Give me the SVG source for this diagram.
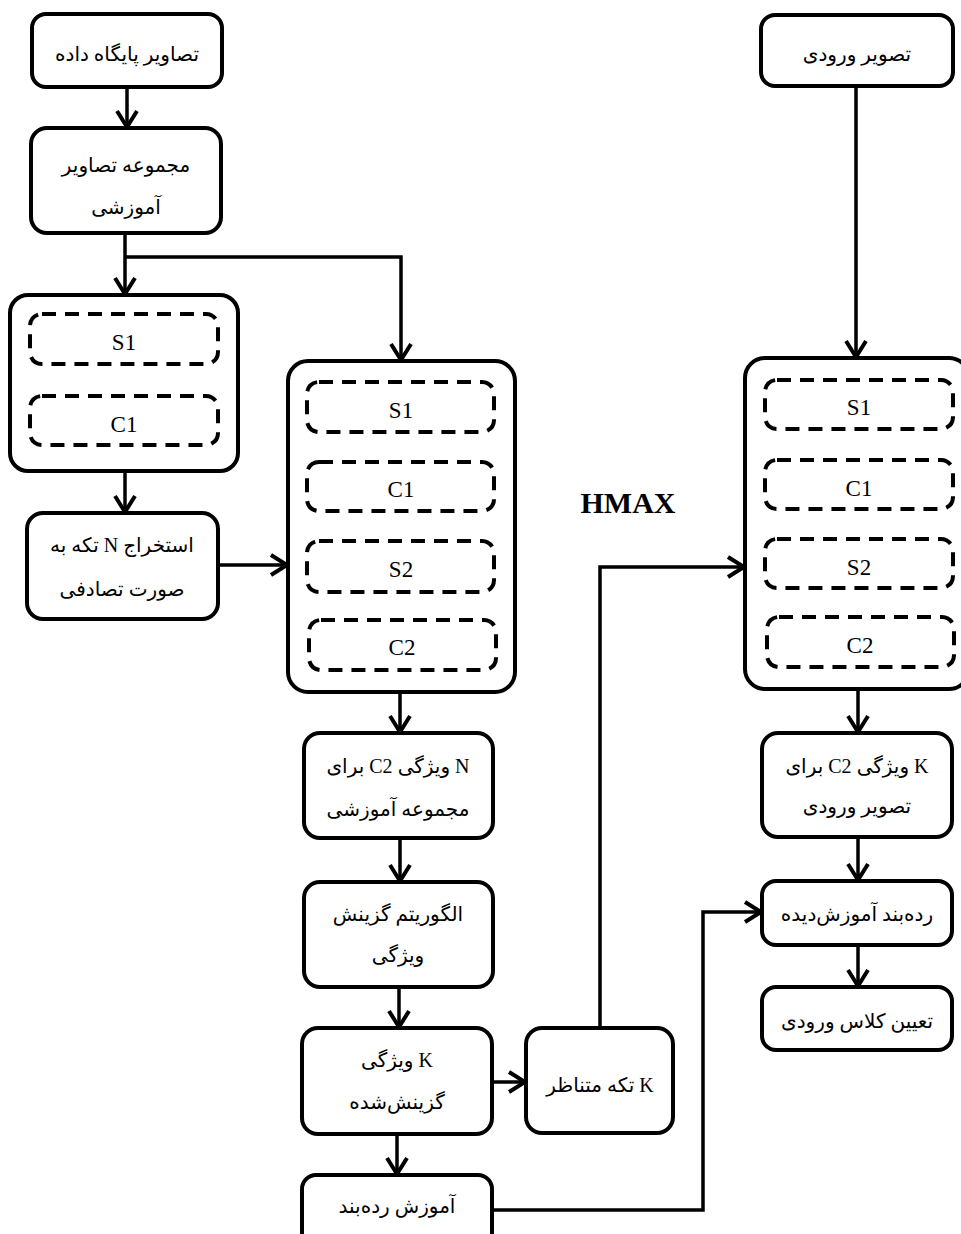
<svg xmlns="http://www.w3.org/2000/svg" width="961" height="1234" viewBox="0 0 961 1234">
<defs>
<marker id="ah" markerUnits="userSpaceOnUse" viewBox="0 0 22 22" markerWidth="22" markerHeight="22" refX="19" refY="11" orient="auto" overflow="visible">
<path d="M2,1 L18,11 L2,21" fill="none" stroke="#000" stroke-width="4" stroke-linejoin="miter"/>
</marker>
<style>
.box{fill:#fff;stroke:#000;stroke-width:4}
.dash{fill:none;stroke:#000;stroke-width:4;stroke-dasharray:14 9}
.ln{fill:none;stroke:#000;stroke-width:3.5}
.arr{fill:none;stroke:#000;stroke-width:3.5;marker-end:url(#ah)}
.fa{font-family:"Liberation Serif","DejaVu Sans",serif;font-size:20px;fill:#000;text-anchor:middle;direction:rtl}
.lab{font-family:"Liberation Serif",serif;font-size:23px;fill:#000;text-anchor:middle}
.hm{font-family:"Liberation Serif",serif;font-size:30px;font-weight:bold;fill:#000;text-anchor:middle}
</style>
</defs>
<rect width="961" height="1234" fill="#fff"/>

<g id="connectors">
<path class="arr" d="M127,87 V128"/>
<path class="arr" d="M125,233 V295"/>
<path class="arr" d="M125,257 H401 V361"/>
<path class="arr" d="M125,364 V396"/>
<path class="arr" d="M125,471 V513"/>
<path class="arr" d="M218,565 H288"/>
<path class="arr" d="M401,432 V462"/>
<path class="arr" d="M401,511 V541"/>
<path class="arr" d="M401,592 V620"/>
<path class="arr" d="M400,692 V733"/>
<path class="arr" d="M400,838 V882"/>
<path class="arr" d="M399,987 V1028"/>
<path class="arr" d="M397,1134 V1175"/>
<path class="arr" d="M492,1082 H526"/>
<path class="arr" d="M600,1028 V567 H745"/>
<path class="arr" d="M492,1210 H703 V912 H762"/>
<path class="arr" d="M856,86 V358"/>
<path class="arr" d="M858,429 V460"/>
<path class="arr" d="M858,509 V539"/>
<path class="arr" d="M858,588 V617"/>
<path class="arr" d="M858,689 V733"/>
<path class="arr" d="M858,837 V881"/>
<path class="arr" d="M858,945 V987"/>
</g>

<g id="n-db">
<rect class="box" x="32" y="14" width="190" height="73" rx="14"/>
<text class="fa" x="127" y="61">تصاویر پایگاه داده</text>
</g>
<g id="n-trainset">
<rect class="box" x="31" y="128" width="190" height="105" rx="16"/>
<text class="fa" x="126" y="172">مجموعه تصاویر</text>
<text class="fa" x="126" y="214">آموزشی</text>
</g>
<g id="n-hmax1">
<rect class="box" x="10" y="295" width="228" height="176" rx="18"/>
<rect class="dash" x="30" y="314" width="188" height="50" rx="12"/>
<text class="lab" x="124" y="350">S1</text>
<rect class="dash" x="30" y="396" width="188" height="49" rx="12"/>
<text class="lab" x="124" y="432">C1</text>
</g>
<g id="n-extract">
<rect class="box" x="27" y="513" width="191" height="106" rx="16"/>
<text class="fa" x="122" y="552">استخراج N تکه به</text>
<text class="fa" x="122" y="596">صورت تصادفی</text>
</g>
<g id="n-hmax2">
<rect class="box" x="288" y="361" width="227" height="331" rx="20"/>
<rect class="dash" x="307" y="382" width="187" height="50" rx="12"/>
<text class="lab" x="401" y="418">S1</text>
<rect class="dash" x="307" y="462" width="187" height="49" rx="12"/>
<text class="lab" x="401" y="497">C1</text>
<rect class="dash" x="307" y="541" width="187" height="51" rx="12"/>
<text class="lab" x="401" y="577">S2</text>
<rect class="dash" x="309" y="620" width="187" height="50" rx="12"/>
<text class="lab" x="402" y="655">C2</text>
</g>
<g id="n-hmaxlabel">
<text class="hm" x="628" y="513">HMAX</text>
</g>
<g id="n-nfeat">
<rect class="box" x="304" y="733" width="189" height="105" rx="16"/>
<text class="fa" x="398" y="773">N ویژگی C2 برای</text>
<text class="fa" x="398" y="816">مجموعه آموزشی</text>
</g>
<g id="n-algo">
<rect class="box" x="304" y="882" width="189" height="105" rx="16"/>
<text class="fa" x="398" y="921">الگوریتم گزینش</text>
<text class="fa" x="398" y="962">ویژگی</text>
</g>
<g id="n-kfeat">
<rect class="box" x="302" y="1028" width="190" height="106" rx="16"/>
<text class="fa" x="397" y="1067">K ویژگی</text>
<text class="fa" x="397" y="1109">گزینش‌شده</text>
</g>
<g id="n-kpatch">
<rect class="box" x="526" y="1028" width="147" height="105" rx="16"/>
<text class="fa" x="600" y="1092">K تکه متناظر</text>
</g>
<g id="n-train">
<rect class="box" x="302" y="1175" width="190" height="72" rx="14"/>
<text class="fa" x="397" y="1213">آموزش رده‌بند</text>
</g>
<g id="n-input">
<rect class="box" x="761" y="15" width="192" height="71" rx="14"/>
<text class="fa" x="857" y="61">تصویر ورودی</text>
</g>
<g id="n-hmax3">
<rect class="box" x="745" y="358" width="224" height="331" rx="20"/>
<rect class="dash" x="765" y="380" width="188" height="49" rx="12"/>
<text class="lab" x="859" y="415">S1</text>
<rect class="dash" x="765" y="460" width="188" height="49" rx="12"/>
<text class="lab" x="859" y="496">C1</text>
<rect class="dash" x="765" y="539" width="188" height="49" rx="12"/>
<text class="lab" x="859" y="575">S2</text>
<rect class="dash" x="767" y="617" width="187" height="50" rx="12"/>
<text class="lab" x="860" y="653">C2</text>
</g>
<g id="n-kc2">
<rect class="box" x="762" y="733" width="190" height="104" rx="16"/>
<text class="fa" x="857" y="773">K ویژگی C2 برای</text>
<text class="fa" x="857" y="813">تصویر ورودی</text>
</g>
<g id="n-trained">
<rect class="box" x="762" y="881" width="190" height="64" rx="14"/>
<text class="fa" x="857" y="921">رده‌بند آموزش‌دیده</text>
</g>
<g id="n-class">
<rect class="box" x="762" y="987" width="190" height="63" rx="14"/>
<text class="fa" x="857" y="1028">تعیین کلاس ورودی</text>
</g>
</svg>
